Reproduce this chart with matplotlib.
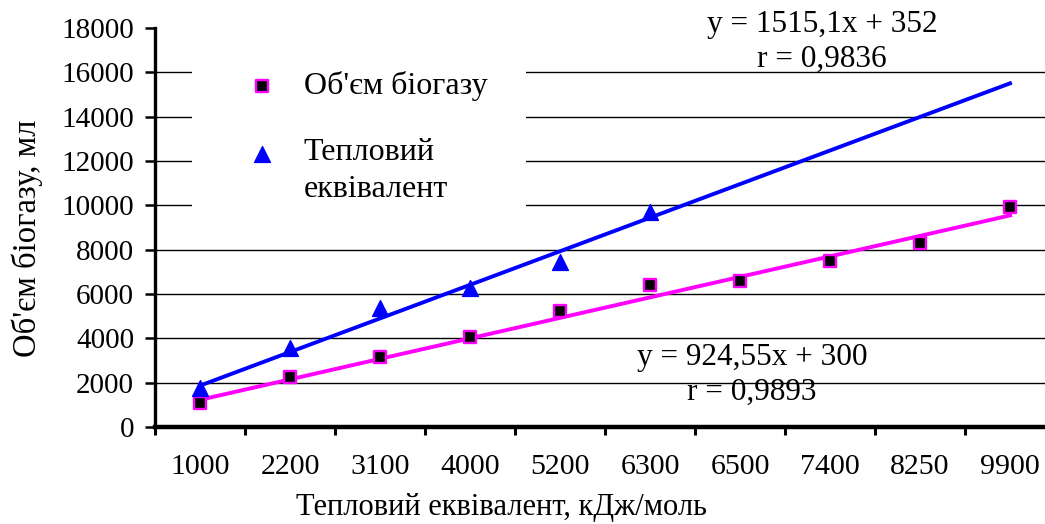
import matplotlib.pyplot as plt
import numpy as np

plt.rcParams['font.family'] = ['Liberation Serif', 'DejaVu Serif']

# data
categories = ["1000", "2200", "3100", "4000", "5200", "6300", "6500", "7400", "8250", "9900"]
biogas = [1080, 2250, 3160, 4060, 5230, 6400, 6590, 7490, 8300, 9920]
heat = [1760, 3560, 5370, 6270, 7440, 9700]
fit_biogas = (924.55, 300)
fit_heat = (1515.1, 352)

x = np.arange(1, len(categories) + 1)
xh = x[:len(heat)]

fig = plt.figure(figsize=(10.45, 5.24), dpi=100)
ax = fig.add_axes([155 / 1045, 97 / 524, 900 / 1045, 399 / 524])

# trend lines
ax.plot(x, fit_heat[0] * x + fit_heat[1], color='#0000ff', lw=2.8, zorder=2)
ax.plot(x, fit_biogas[0] * x + fit_biogas[1], color='#ff00ff', lw=2.8, zorder=2)

# points
sq = ax.scatter(x, biogas, marker='s', s=80, facecolor='black', edgecolor='#ff00ff',
                linewidth=1.7, zorder=3, label="Об'єм біогазу")
tr = ax.scatter(xh, heat, marker='^', s=130, color='#0000ff', zorder=3,
                label="Тепловий\nеквівалент")

ax.set_xlim(0.5, 10.5)
ax.set_ylim(0, 18000)
ax.set_yticks(np.arange(0, 18001, 2000))
ax.tick_params(axis='y', labelsize=21, length=7, width=1.8, pad=8)

# ticks between categories, labels in the middle
ax.set_xticks(np.arange(0.5, 10.6, 1))
ax.set_xticklabels([])
ax.set_xticks(x, minor=True)
ax.set_xticklabels(categories, minor=True)
ax.tick_params(axis='x', which='major', length=6, width=2.2, direction='out')
ax.tick_params(axis='x', which='minor', length=0, labelsize=21.5, pad=19.5)

ax.yaxis.grid(True, color='black', lw=1)
ax.set_axisbelow(True)
ax.get_ygridlines()[-1].set_visible(False)
ax.get_ygridlines()[0].set_visible(False)

for s in ['top', 'right']:
    ax.spines[s].set_visible(False)
ax.spines['left'].set_linewidth(2.4)
ax.spines['bottom'].set_linewidth(3.2)

ax.set_ylabel("Об'єм біогазу, мл", fontsize=23.5, va='center')
ax.yaxis.set_label_coords((27 - 155) / 900, (427 - 238) / 399)
ax.set_xlabel("Тепловий еквівалент, кДж/моль", fontsize=22, va='center')
ax.xaxis.set_label_coords((501 - 155) / 900, (427 - 507) / 399)

leg = ax.legend(handles=[sq, tr], loc='upper left',
                bbox_to_anchor=(192 / 1045, 1 - 33 / 524), bbox_transform=fig.transFigure,
                borderaxespad=0, fontsize=23, frameon=True, facecolor='white',
                edgecolor='white', framealpha=1, handlelength=2.0, handletextpad=0.3,
                labelspacing=1.15, borderpad=1.2)
leg.get_frame().set_linewidth(0)
for t in leg.get_texts():
    t.set_linespacing(1.38)
# put the triangle next to the first line of its two-line label
h = leg.legend_handles[1]
offs = h.get_offsets().copy()
offs[:, 1] += 14
h.set_offsets(offs)

ax.text(822 / 1045, 1 - 42 / 524, "y = 1515,1x + 352\nr = 0,9836", transform=fig.transFigure,
        ha='center', va='center', fontsize=22.5, linespacing=1.28)
ax.text(752 / 1045, 1 - 375 / 524, "y = 924,55x + 300\nr = 0,9893", transform=fig.transFigure,
        ha='center', va='center', fontsize=22.5, linespacing=1.28)

fig.savefig('out.png', dpi=100)
